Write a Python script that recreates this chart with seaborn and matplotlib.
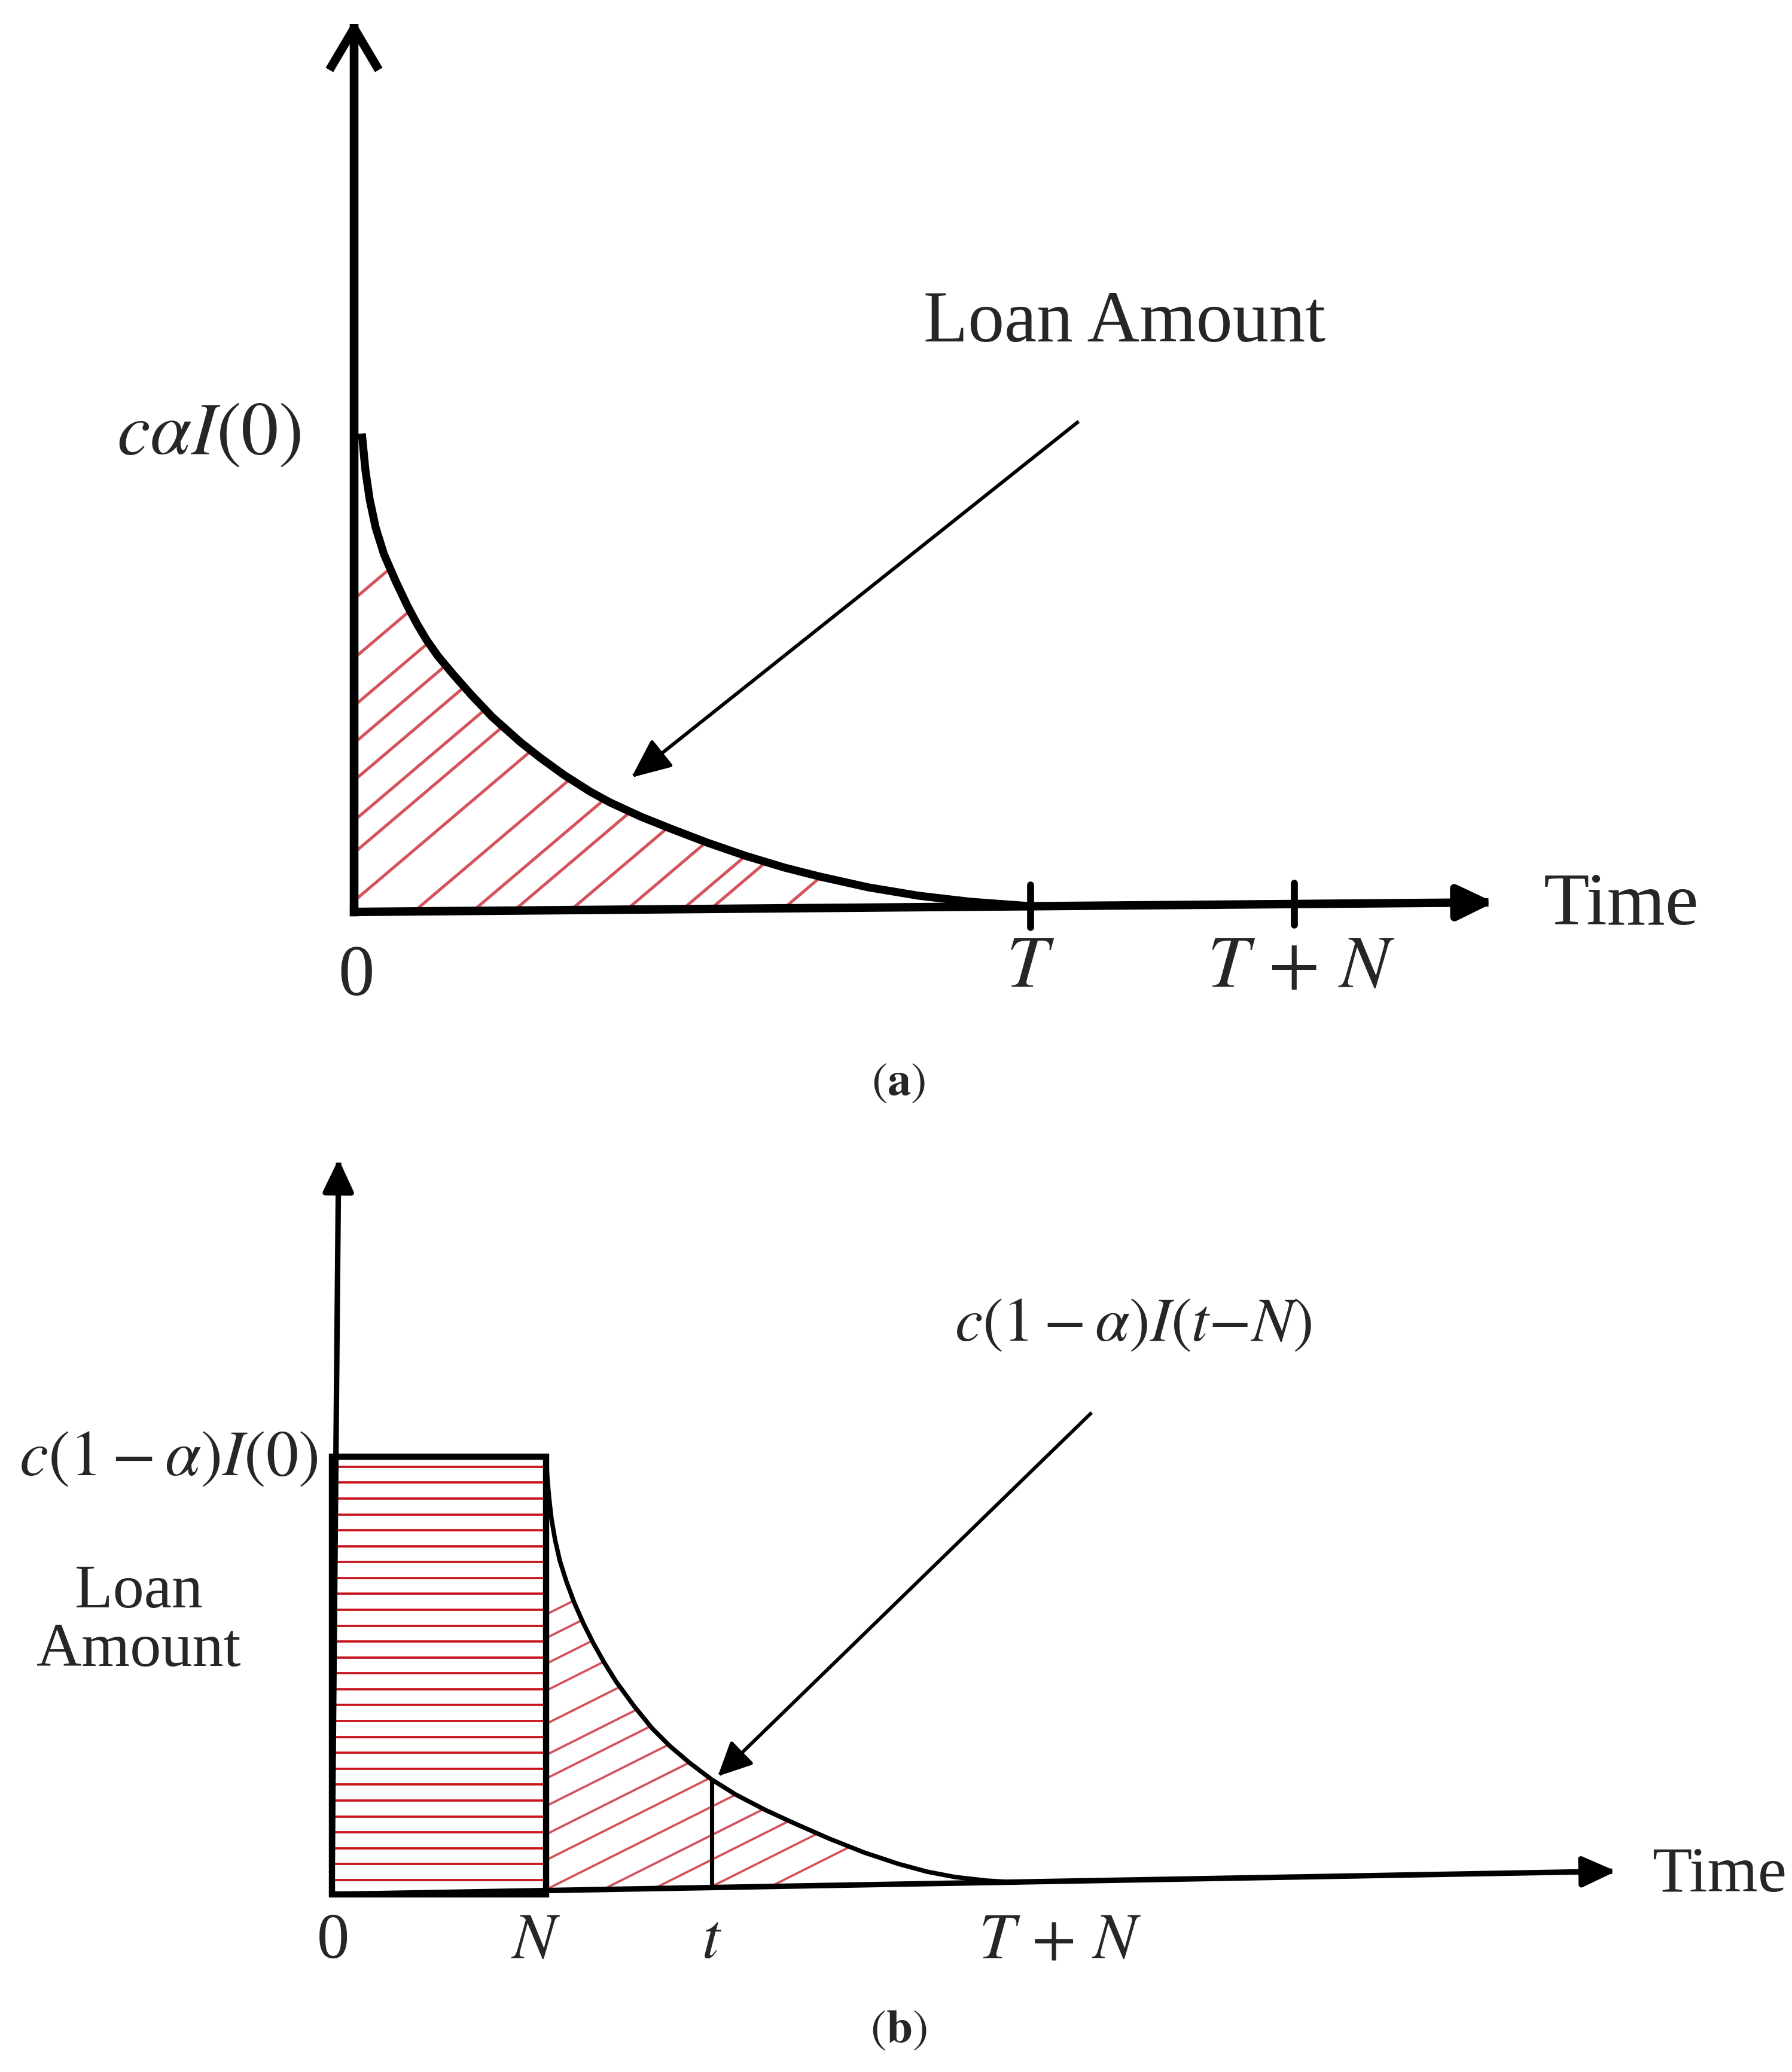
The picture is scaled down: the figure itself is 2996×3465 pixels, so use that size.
import numpy as np
import matplotlib
matplotlib.use("Agg")
import matplotlib.pyplot as plt
from matplotlib.patches import Polygon, Rectangle
import seaborn as sns

sns.set_theme(style="white")
plt.rcParams['font.family'] = ['Liberation Serif', 'DejaVu Serif']
plt.rcParams['mathtext.fontset'] = 'stix'

W, H, DPI = 2996, 3465, 600
RED_DIAG = '#d5525a'
RED_HORZ = '#c8141c'

# ---------------- panel (a) : loan amount c*alpha*I(t) ----------------
a_curve_x = [0.115, 0.168, 0.230, 0.318, 0.442, 0.619, 0.787, 0.928, 1.070, 1.238,
             1.459, 1.724, 2.042, 2.458, 2.750, 3.103, 3.492, 3.784, 4.244, 4.686,
             5.217, 5.782, 6.366, 6.888, 7.604, 8.347, 9.107, 10.0]
a_curve_y = [10.0, 9.225, 8.625, 8.038, 7.475, 6.900, 6.400, 6.025, 5.688, 5.350,
             4.975, 4.550, 4.075, 3.550, 3.225, 2.863, 2.513, 2.288, 1.988, 1.738,
             1.450, 1.175, 0.925, 0.738, 0.513, 0.338, 0.213, 0.12]
a_T = 10.0
a_TN = 13.9
a_xaxis_end = (16.85, 0.20)
a_yaxis_top = 18.65
a_hatch_x0 = [-5.45, -4.42, -3.59, -2.94, -2.29, -1.59, -1.03, -0.19,
              0.88, 1.74, 2.34, 3.17, 3.99, 4.81, 5.22, 6.29]
a_hatch_slope = 1.2
a_pointer = ((10.69, 10.23), (4.10, 2.81))

# ---------------- panel (b) : loan amount c*(1-alpha)*I(t-N) ----------------
b_curve_x = [10.0, 10.056, 10.14, 10.251, 10.419, 10.642, 10.95, 11.313, 11.732, 12.207,
             12.709, 13.268, 14.106, 14.944, 15.782, 16.704, 17.737, 18.855, 20.251,
             21.648, 23.24, 24.86, 26.453, 27.793, 29.106, 30.587, 32.011]
b_curve_y = [10.0, 9.536, 9.057, 8.579, 8.101, 7.623, 7.145, 6.667, 6.202, 5.738,
             5.301, 4.863, 4.303, 3.798, 3.388, 3.005, 2.623, 2.281, 1.926,
             1.612, 1.270, 0.956, 0.697, 0.519, 0.396, 0.314, 0.273]
b_N = 10.0
b_t = 17.74
b_TN = 34.0
b_rect_h = 10.0
b_xaxis_end = (59.97, 0.53)
b_yaxis_top = (0.31, 16.8)
b_hatch_x0 = [-16.1, -13.9, -11.5, -9.0, -5.9, -3.0, -0.8, 1.76, 4.4, 6.8, 9.55,
              12.2, 14.5, 17.0, 19.75]
b_hatch_slope = 0.245
b_rect_lines = 27
b_pointer = ((35.42, 10.98), (18.02, 2.70))


def panel(fig, top, bottom, ox, oy, sx, sy):
    # axes spanning full width; ox, oy = pixel position of origin, sx, sy = px per unit
    ax = fig.add_axes([0, 1 - bottom / H, 1, (bottom - top) / H])
    ax.set_xlim(-ox / sx, (W - ox) / sx)
    ax.set_ylim((oy - bottom) / sy, (oy - top) / sy)
    ax.set_axis_off()
    return ax


def arrow(ax, start, end, lw, style, hl, hw):
    ax.annotate("", xy=end, xytext=start,
                arrowprops=dict(arrowstyle=f"{style},head_length={hl},head_width={hw}",
                                lw=lw, color='black', shrinkA=0, shrinkB=0,
                                mutation_scale=1, capstyle='projecting'))


def hatch(ax, verts, x0s, slope, color, lw):
    poly = Polygon(verts, closed=True, facecolor='none', edgecolor='none')
    ax.add_patch(poly)
    for x0 in x0s:
        xs = np.array([x0, x0 + 40])
        ln, = ax.plot(xs, slope * (xs - x0), color=color, lw=lw, zorder=1,
                      solid_capstyle='butt')
        ln.set_clip_path(poly)


fig = plt.figure(figsize=(W / DPI, H / DPI), dpi=DPI)

# ---- panel (a)
ax = panel(fig, 0, 1730, 592, 1525, 113.1, 80.0)
a_axis_at = lambda x: a_xaxis_end[1] * x / a_xaxis_end[0]
verts = list(zip(a_curve_x, a_curve_y)) + [(a_curve_x[-1], a_axis_at(a_curve_x[-1])),
                                           (0, 0), (0, a_curve_y[0])]
hatch(ax, verts, a_hatch_x0, a_hatch_slope, RED_DIAG, 0.6)
sns.lineplot(x=a_curve_x, y=a_curve_y, ax=ax, color='black', lw=1.6, sort=False,
             solid_capstyle='butt', zorder=3)
arrow(ax, (0, 0), (0, a_yaxis_top), 1.75, '->', 7.6, 4.5)
arrow(ax, (0, 0), a_xaxis_end, 1.7, '-|>', 6.0, 2.9)
for xt in [a_T, a_TN]:
    yc = a_axis_at(xt)
    ax.plot([xt, xt], [yc - 0.44, yc + 0.44], color='black', lw=1.4)
arrow(ax, *a_pointer, 0.7, '-|>', 6.8, 3.0)

ax.text(11.39, 12.3, "Loan Amount", fontsize=14.6, ha='center', va='center')
ax.text(-2.15, 9.95, r"$c\alpha I(0)$", fontsize=15, ha='center', va='center')
ax.text(0.035, -1.375, "0", fontsize=14.5, ha='center', va='center')
ax.text(a_T, -1.19, r"$T$", fontsize=15, ha='center', va='center')
ax.text(a_TN + 0.1, -1.19, r"$T\,+\,N$", fontsize=15, ha='center', va='center')
ax.text(17.58, 0.11, "Time", fontsize=15, ha='left', va='center')

# ---- panel (b)
bx = panel(fig, 1730, H, 555, 3168, 35.8, 73.2)
b_axis_at = lambda x: b_xaxis_end[1] * x / b_xaxis_end[0]
verts = list(zip(b_curve_x, b_curve_y)) + [(b_curve_x[-1], b_axis_at(b_curve_x[-1])),
                                           (b_N, b_axis_at(b_N))]
hatch(bx, verts, b_hatch_x0, b_hatch_slope, RED_DIAG, 0.45)
bx.hlines(np.linspace(0.33, 9.77, b_rect_lines), 0.15, b_N - 0.12, colors=RED_HORZ,
          lw=0.45, zorder=1)
bx.add_patch(Rectangle((0, 0), b_N, b_rect_h, fill=False, edgecolor='black', lw=1.25,
                       joinstyle='miter', zorder=3))
sns.lineplot(x=b_curve_x, y=b_curve_y, ax=bx, color='black', lw=0.9, sort=False,
             zorder=3)
t_top = np.interp(b_t, b_curve_x, b_curve_y)
bx.plot([b_t, b_t], [b_axis_at(b_t), t_top], color='black', lw=0.85)
arrow(bx, (0, 0), b_yaxis_top, 1.1, '-|>', 5.5, 2.6)
arrow(bx, (0, 0), b_xaxis_end, 1.1, '-|>', 5.7, 2.6)
arrow(bx, *b_pointer, 0.7, '-|>', 5.8, 2.8)

bx.text(37.43, 13.0, r"$c(1-\alpha)I(t{-}N)$", fontsize=12.5, ha='center', va='center')
bx.text(-7.65, 9.93, r"$c(1-\alpha)I(0)$", fontsize=13, ha='center', va='center')
bx.text(-9.02, 6.23, "Loan\nAmount", fontsize=12.5, ha='center', va='center',
        linespacing=1.05)
bx.text(0.06, -1.09, "0", fontsize=13, ha='center', va='center')
bx.text(b_N - 0.5, -1.09, r"$N$", fontsize=13, ha='center', va='center')
bx.text(b_t, -1.09, r"$t$", fontsize=13, ha='center', va='center')
bx.text(b_TN, -1.09, r"$T\,+\,N$", fontsize=13, ha='center', va='center')
bx.text(61.65, 0.42, "Time", fontsize=13, ha='left', va='center')

fig.text(1502 / W, 1 - 1812 / H, r"$(\mathbf{a})$", fontsize=9.5, ha='center', va='center')
fig.text(1502 / W, 1 - 3396 / H, r"$(\mathbf{b})$", fontsize=9.5, ha='center', va='center')

fig.savefig("out.png", dpi=DPI, facecolor='white')
